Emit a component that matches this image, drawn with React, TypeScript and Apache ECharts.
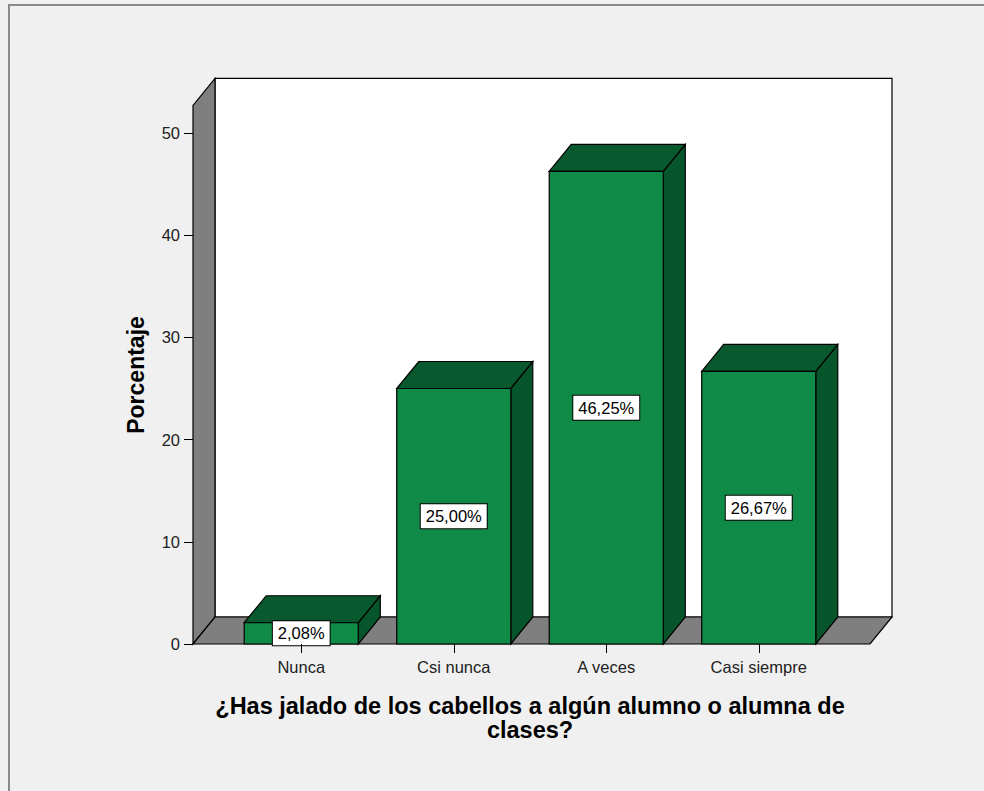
import React, { useEffect, useRef } from "react";
import * as echarts from "echarts";

const categories = ["Nunca", "Csi nunca", "A veces", "Casi siempre"];
const percentages = [2.08, 25.0, 46.25, 26.67];
const yTicks = { min: 0, max: 50, interval: 10 };
const wallTopValue = 52.7;
const xTitle = "¿Has jalado de los cabellos a algún alumno o alumna de\nclases?";
const yTitle = "Porcentaje";

const FONT = "'Liberation Sans', Arial, sans-serif";
const DX = 22;
const DY = -27;

export default function App() {
  const ref = useRef<HTMLDivElement>(null);
  useEffect(() => {
    if (!ref.current) return;
    const chart = echarts.init(ref.current, undefined, { renderer: "svg" });
    const option: any = {
      animation: false,
      backgroundColor: "#f0f0f0",
      grid: { left: 225, right: 149, top: 133, bottom: 147 },
      xAxis: {
        type: "category",
        data: categories,
        axisLine: { show: false },
        axisTick: { show: true, alignWithLabel: true, length: 9, lineStyle: { color: "#000", width: 1 } },
        axisLabel: { fontSize: 16.5, color: "#222", margin: 14, fontFamily: FONT },
        splitLine: { show: false },
        z: 10,
      },
      yAxis: {
        type: "value",
        min: yTicks.min,
        max: yTicks.max,
        interval: yTicks.interval,
        offset: 32,
        axisLine: { show: false },
        axisTick: { show: true, length: 9, lineStyle: { color: "#000", width: 1 } },
        axisLabel: { fontSize: 16.5, color: "#222", margin: 13, fontFamily: FONT },
        splitLine: { show: false },
      },
      graphic: [
        {
          type: "rect",
          shape: { x: 9, y: 5, width: 1100, height: 1000 },
          style: { fill: "none", stroke: "#8a8a8a", lineWidth: 2 },
          silent: true,
        },
        {
          type: "text",
          x: 136,
          y: 375,
          rotation: Math.PI / 2,
          style: {
            text: yTitle,
            font: `bold 23px ${FONT}`,
            fill: "#000",
            align: "center",
            verticalAlign: "middle",
          },
        },
        {
          type: "text",
          x: 530,
          y: 718,
          style: {
            text: xTitle,
            font: `bold 23.5px ${FONT}`,
            lineHeight: 24,
            fill: "#000",
            align: "center",
            verticalAlign: "middle",
          },
        },
      ],
      series: [
        {
          type: "custom",
          data: [0],
          silent: true,
          z: 1,
          renderItem: (params: any, api: any) => {
            const cs = params.coordSys;
            const y0 = api.coord([0, 0])[1];
            const yTop = api.coord([0, wallTopValue])[1];
            const fl = cs.x - 32;
            const fr = cs.x + cs.width + 35;
            const stroke = { stroke: "#000", lineWidth: 1.2 };
            return {
              type: "group",
              children: [
                {
                  type: "polygon",
                  shape: { points: [[fl + DX, yTop + DY], [fr + DX, yTop + DY], [fr + DX, y0 + DY], [fl + DX, y0 + DY]] },
                  style: { fill: "#ffffff", ...stroke },
                },
                {
                  type: "polygon",
                  shape: { points: [[fl, y0], [fl, yTop], [fl + DX, yTop + DY], [fl + DX, y0 + DY]] },
                  style: { fill: "#7f7f7f", ...stroke },
                },
                {
                  type: "polygon",
                  shape: { points: [[fl, y0], [fr, y0], [fr + DX, y0 + DY], [fl + DX, y0 + DY]] },
                  style: { fill: "#7f7f7f", ...stroke },
                },
              ],
            };
          },
        },
        {
          type: "custom",
          data: percentages.map((v, i) => [i, v]),
          z: 2,
          renderItem: (params: any, api: any) => {
            const i = api.value(0);
            const v = api.value(1);
            const top = api.coord([i, v]);
            const base = api.coord([i, 0]);
            const band = api.size([1, 0])[0];
            const w = band * 0.748;
            const xl = top[0] - w / 2;
            const xr = top[0] + w / 2;
            const yt = top[1];
            const yb = base[1];
            const stroke = { stroke: "#000", lineWidth: 1.2 };
            const label = v.toFixed(2).replace(".", ",") + "%";
            return {
              type: "group",
              children: [
                {
                  type: "polygon",
                  shape: { points: [[xr, yt], [xr + DX, yt + DY], [xr + DX, yb + DY], [xr, yb]] },
                  style: { fill: "#07552b", ...stroke },
                },
                {
                  type: "polygon",
                  shape: { points: [[xl, yt], [xl + DX, yt + DY], [xr + DX, yt + DY], [xr, yt]] },
                  style: { fill: "#08592d", ...stroke },
                },
                {
                  type: "rect",
                  shape: { x: xl, y: yt, width: w, height: yb - yt },
                  style: { fill: "#0f8b47", ...stroke },
                },
                {
                  type: "text",
                  x: top[0],
                  y: (yt + yb) / 2,
                  style: {
                    text: label,
                    font: `16.5px ${FONT}`,
                    fill: "#000",
                    align: "center",
                    verticalAlign: "middle",
                    backgroundColor: "#fff",
                    borderColor: "#000",
                    borderWidth: 1,
                    padding: [4, 5, 3, 5],
                  },
                },
              ],
            };
          },
        },
      ],
    };
    chart.setOption(option);
    return () => chart.dispose();
  }, []);
  return (
    <div
      ref={ref}
      style={{ position: "absolute", left: 0, top: 0, width: 984, height: 791 }}
    />
  );
}
